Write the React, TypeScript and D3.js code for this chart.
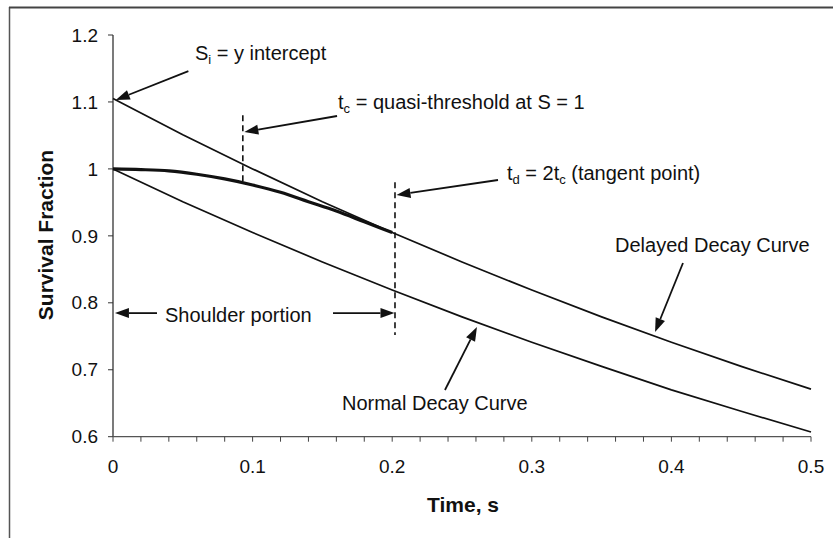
import * as React from 'react'
import { scaleLinear, line, curveMonotoneX, curveLinear, range } from 'd3'

// survival fraction
const decayTimes = [0, 0.05, 0.1, 0.15, 0.2, 0.25, 0.3, 0.35, 0.4, 0.45, 0.5]
const normalDecay = [1.0, 0.951, 0.905, 0.861, 0.819, 0.779, 0.741, 0.705, 0.67, 0.638, 0.607]
const delayedDecay = [1.105, 1.051, 1.0, 0.951, 0.905, 0.861, 0.819, 0.779, 0.741, 0.705, 0.671]
const shoulderTimes = [0, 0.02, 0.04, 0.06, 0.08, 0.1, 0.12, 0.14, 0.16, 0.18, 0.2]
const shoulderValues = [1.0, 0.999, 0.997, 0.992, 0.985, 0.976, 0.965, 0.951, 0.937, 0.921, 0.905]

const xTicks = [0, 0.1, 0.2, 0.3, 0.4, 0.5]
const xTickLabels = ['0', '0.1', '0.2', '0.3', '0.4', '0.5']
const yTicks = [0.6, 0.7, 0.8, 0.9, 1.0, 1.1, 1.2]
const yTickLabels = ['0.6', '0.7', '0.8', '0.9', '1', '1.1', '1.2']

const tc = 0.093 // quasi-threshold
const td = 0.202 // tangent point
const si = 1.105 // y intercept

const W = 833
const H = 538
const FONT = 'Arial, "Liberation Sans", Helvetica, sans-serif'

function Arrow({ x1, y1, x2, y2 }: { x1: number; y1: number; x2: number; y2: number }) {
  const a = Math.atan2(y2 - y1, x2 - x1)
  const len = 14
  const hw = 5
  const bx = x2 - len * Math.cos(a)
  const by = y2 - len * Math.sin(a)
  const px = -Math.sin(a) * hw
  const py = Math.cos(a) * hw
  return (
    <g>
      <line x1={x1} y1={y1} x2={bx} y2={by} stroke="#111" strokeWidth={1.8} />
      <polygon points={`${x2},${y2} ${bx + px},${by + py} ${bx - px},${by - py}`} fill="#111" />
    </g>
  )
}

export default function App() {
  const x = scaleLinear().domain([0, 0.5]).range([113, 811])
  const y = scaleLinear().domain([0.6, 1.2]).range([436.7, 35])

  const mk = (ts: number[], vs: number[], curve = curveLinear) =>
    line<number>()
      .x((_, i) => x(ts[i]))
      .y((d) => y(d))
      .curve(curve)(vs) as string

  const minor = range(0, 0.5001, 0.02)

  return (
    <svg
      width={W}
      height={H}
      style={{ position: 'absolute', left: 0, top: 0, background: '#fff' }}
      fontFamily={FONT}
    >
      <rect x={0} y={0} width={W} height={H} fill="#fff" />
      {/* frame */}
      <line x1={9.5} y1={7} x2={9.5} y2={H} stroke="#555" strokeWidth={1.5} />
      <line x1={9} y1={7.5} x2={W} y2={7.5} stroke="#444" strokeWidth={1.8} />

      {/* axes */}
      <line x1={x(0)} y1={y(1.2)} x2={x(0)} y2={y(0.6)} stroke="#222" strokeWidth={1.2} />
      <line x1={x(0)} y1={y(0.6)} x2={x(0.5)} y2={y(0.6)} stroke="#555" strokeWidth={1.2} />
      {yTicks.map((v, i) => (
        <g key={'y' + i}>
          <line x1={x(0) - 5} x2={x(0)} y1={y(v)} y2={y(v)} stroke="#333" strokeWidth={1} />
          <text x={98} y={y(v)} dy="0.35em" textAnchor="end" fontSize={19} fill="#111">
            {yTickLabels[i]}
          </text>
        </g>
      ))}
      {minor.map((v, i) => (
        <line key={'m' + i} x1={x(v)} x2={x(v)} y1={y(0.6)} y2={y(0.6) + 5} stroke="#444" strokeWidth={1} />
      ))}
      {xTicks.map((v, i) => (
        <text key={'x' + i} x={x(v)} y={473} textAnchor="middle" fontSize={19} fill="#111">
          {xTickLabels[i]}
        </text>
      ))}
      <text x={463} y={512} textAnchor="middle" fontSize={21} fontWeight="bold" fill="#111">
        Time, s
      </text>
      <text
        transform={`translate(53,235) rotate(-90)`}
        textAnchor="middle"
        fontSize={21}
        fontWeight="bold"
        fill="#111"
      >
        Survival Fraction
      </text>

      {/* curves */}
      <path d={mk(decayTimes, normalDecay)} fill="none" stroke="#111" strokeWidth={1.7} />
      <path d={mk(decayTimes, delayedDecay)} fill="none" stroke="#111" strokeWidth={1.7} />
      <path d={mk(shoulderTimes, shoulderValues, curveMonotoneX)} fill="none" stroke="#111" strokeWidth={3.2} />

      {/* dashed markers */}
      <line x1={x(tc)} x2={x(tc)} y1={y(1.08)} y2={y(0.979)} stroke="#111" strokeWidth={1.6} strokeDasharray="6,4" />
      <line x1={x(td)} x2={x(td)} y1={y(0.98)} y2={y(0.752)} stroke="#111" strokeWidth={1.6} strokeDasharray="6,4" />

      {/* annotations */}
      <Arrow x1={x(0.054)} y1={y(1.146)} x2={x(0.002)} y2={y(si - 0.002)} />
      <text x={x(0.0587)} y={y(1.163)} fontSize={20} fill="#111">
        S<tspan fontSize={13} dy={4}>i</tspan>
        <tspan dy={-4}> = y intercept</tspan>
      </text>

      <Arrow x1={x(0.1605)} y1={y(1.079)} x2={x(tc) + 1.5} y2={y(1.055)} />
      <text x={x(0.1612)} y={y(1.0895)} fontSize={20} fill="#111">
        t<tspan fontSize={13} dy={4}>c</tspan>
        <tspan dy={-4}> = quasi-threshold at S = 1</tspan>
      </text>

      <Arrow x1={x(0.2758)} y1={y(0.9834)} x2={x(td) + 1.5} y2={y(0.961)} />
      <text x={x(0.2822)} y={y(0.9834)} fontSize={20} fill="#111">
        t<tspan fontSize={13} dy={4}>d</tspan>
        <tspan dy={-4}> = 2t</tspan>
        <tspan fontSize={13} dy={4}>c</tspan>
        <tspan dy={-4}> (tangent point)</tspan>
      </text>

      <Arrow x1={x(0.0315)} y1={y(0.7846)} x2={x(0.0014)} y2={y(0.7846)} />
      <Arrow x1={x(0.1576)} y1={y(0.7846)} x2={x(td) - 0.5} y2={y(0.7846)} />
      <text x={x(0.0372)} y={y(0.7713)} fontSize={20} fill="#111">
        Shoulder portion
      </text>

      <Arrow x1={x(0.4083)} y1={y(0.8594)} x2={x(0.3883)} y2={y(0.7564)} />
      <text x={x(0.3596)} y={y(0.8759)} fontSize={20} fill="#111">
        Delayed Decay Curve
      </text>

      <Arrow x1={x(0.2378)} y1={y(0.6698)} x2={x(0.2607)} y2={y(0.7639)} />
      <text x={x(0.164)} y={y(0.6399)} fontSize={20} fill="#111">
        Normal Decay Curve
      </text>
    </svg>
  )
}
